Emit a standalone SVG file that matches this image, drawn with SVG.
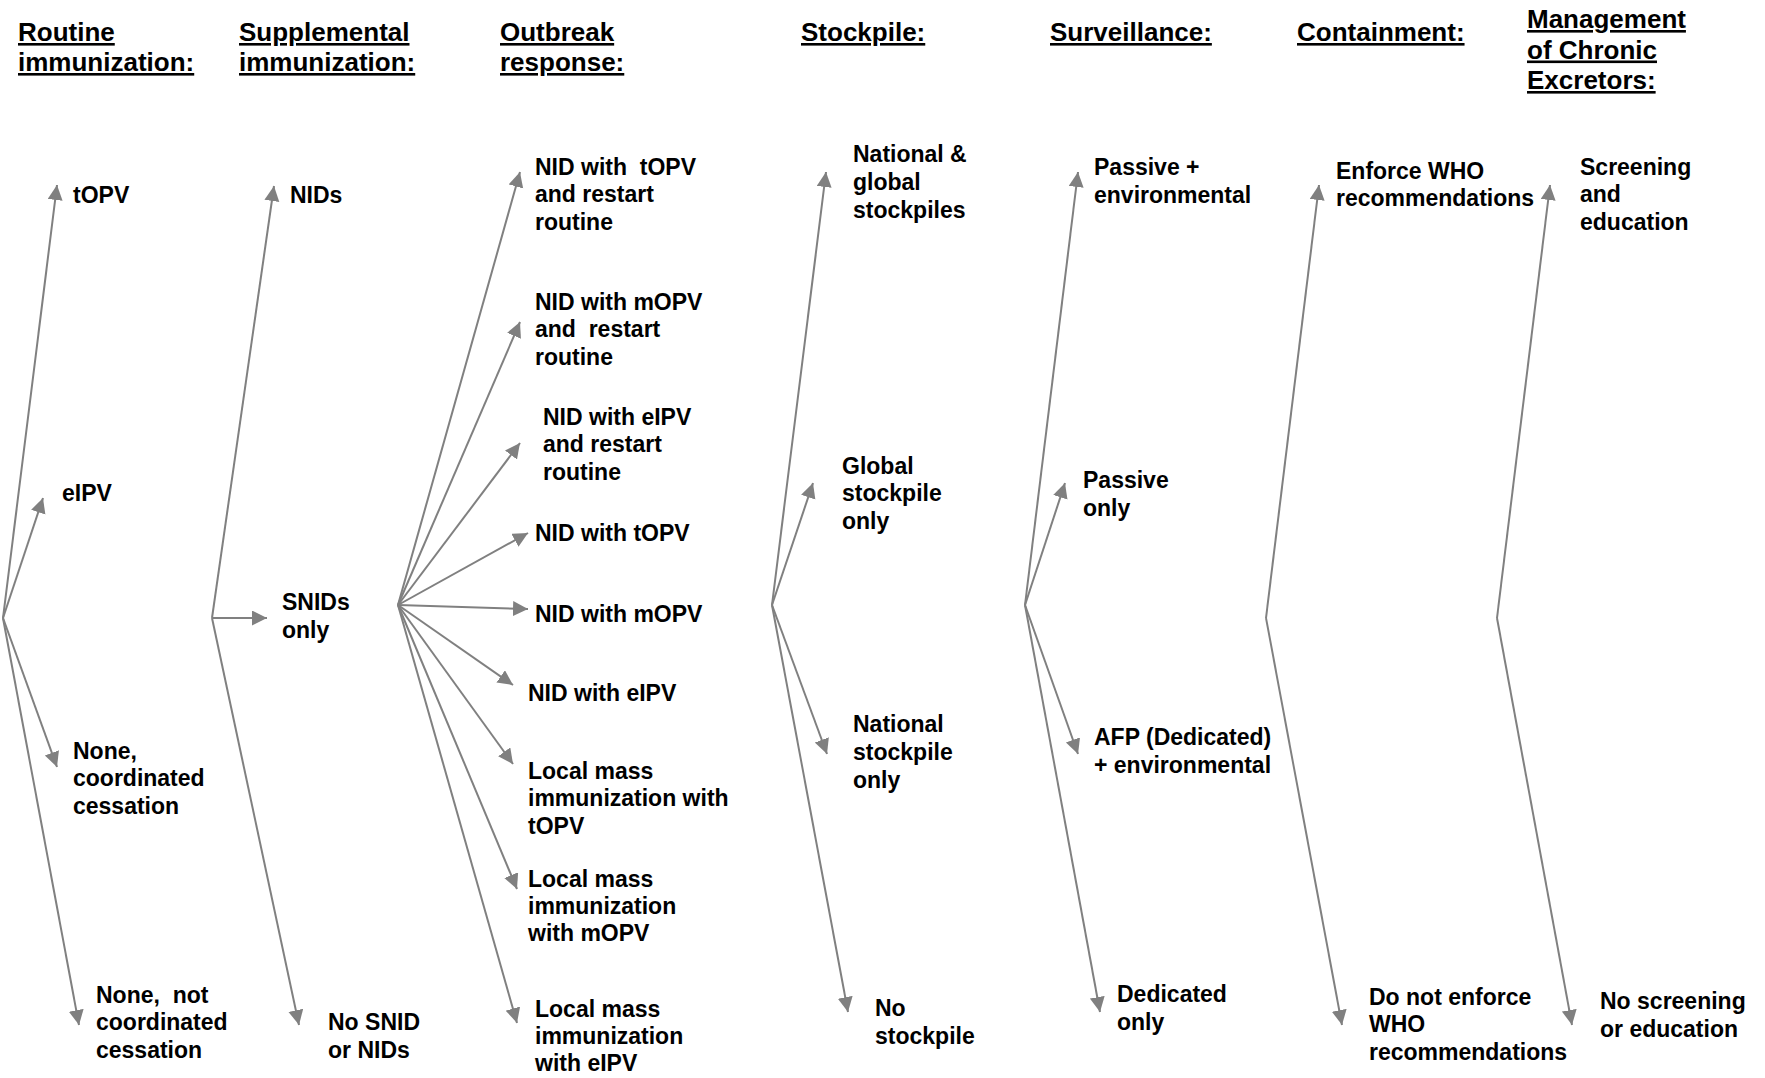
<svg xmlns="http://www.w3.org/2000/svg" width="1765" height="1078" viewBox="0 0 1765 1078">
  <style>
    .hdr { font-family: "Liberation Sans", Arial, sans-serif; font-weight: bold; font-size: 26px; fill: #000; text-decoration: underline; }
    .lbl { font-family: "Liberation Sans", Arial, sans-serif; font-weight: bold; font-size: 23px; fill: #000; white-space: pre; }
    .edge { fill: none; stroke: #808080; stroke-width: 2; marker-end: url(#arrow); }
  </style>
  <defs>
    <marker id="arrow" markerUnits="userSpaceOnUse" markerWidth="16" markerHeight="16" viewBox="0 0 16 16" refX="15" refY="7.5" orient="auto">
      <path d="M0,0 L15,7.5 L0,15 Z" fill="#808080"/>
    </marker>
  </defs>
  <rect width="1765" height="1078" fill="#fff"/>

  <!-- column headings -->
  <g id="headers">
    <text class="hdr" x="18" y="41">Routine<tspan x="18" dy="30">immunization:</tspan></text>
    <text class="hdr" x="239" y="41">Supplemental<tspan x="239" dy="30">immunization:</tspan></text>
    <text class="hdr" x="500" y="41">Outbreak<tspan x="500" dy="30">response:</tspan></text>
    <text class="hdr" x="801" y="41">Stockpile:</text>
    <text class="hdr" x="1050" y="41">Surveillance:</text>
    <text class="hdr" x="1297" y="41">Containment:</text>
    <text class="hdr" x="1527" y="28">Management<tspan x="1527" dy="30.5">of Chronic</tspan><tspan x="1527" dy="30.5">Excretors:</tspan></text>
  </g>

  <!-- branching arrows -->
  <g id="connectors">
    <!-- routine immunization -->
    <path class="edge" d="M3,618 L57,185"/>
    <path class="edge" d="M3,618 L43,498"/>
    <path class="edge" d="M3,618 L57,767"/>
    <path class="edge" d="M3,618 L79,1025"/>
    <!-- supplemental immunization -->
    <path class="edge" d="M212,618 L274,186"/>
    <path class="edge" d="M212,618 L267,618"/>
    <path class="edge" d="M212,618 L299,1025"/>
    <!-- outbreak response -->
    <path class="edge" d="M398,605 L520,172"/>
    <path class="edge" d="M398,605 L520,322"/>
    <path class="edge" d="M398,605 L520,443"/>
    <path class="edge" d="M398,605 L528,533"/>
    <path class="edge" d="M398,605 L528,609"/>
    <path class="edge" d="M398,605 L513,685"/>
    <path class="edge" d="M398,605 L513,764"/>
    <path class="edge" d="M398,605 L517,889"/>
    <path class="edge" d="M398,605 L517,1023"/>
    <!-- stockpile -->
    <path class="edge" d="M772,605 L826,172"/>
    <path class="edge" d="M772,605 L813,483"/>
    <path class="edge" d="M772,605 L827,754"/>
    <path class="edge" d="M772,605 L848,1012"/>
    <!-- surveillance -->
    <path class="edge" d="M1025,605 L1078,172"/>
    <path class="edge" d="M1025,605 L1065,483"/>
    <path class="edge" d="M1025,605 L1078,754"/>
    <path class="edge" d="M1025,605 L1100,1012"/>
    <!-- containment -->
    <path class="edge" d="M1266,618 L1319,185"/>
    <path class="edge" d="M1266,618 L1342,1025"/>
    <!-- management of chronic excretors -->
    <path class="edge" d="M1497,618 L1550,185"/>
    <path class="edge" d="M1497,618 L1572,1025"/>
  </g>

  <g id="labels" transform="translate(0,1.5)">
    <!-- routine immunization options -->
    <g id="ri-topv"><text class="lbl" x="73" y="201">tOPV</text></g>
    <g id="ri-eipv"><text class="lbl" x="62" y="499">eIPV</text></g>
    <g id="ri-none-coord"><text class="lbl" x="73" y="757">None,<tspan x="73" dy="27.5">coordinated</tspan><tspan x="73" dy="27.5">cessation</tspan></text></g>
    <g id="ri-none-uncoord"><text class="lbl" x="96" y="1001">None,  not<tspan x="96" dy="27.5">coordinated</tspan><tspan x="96" dy="27.5">cessation</tspan></text></g>

    <!-- supplemental immunization options -->
    <g id="si-nids"><text class="lbl" x="290" y="201">NIDs</text></g>
    <g id="si-snids"><text class="lbl" x="282" y="608">SNIDs<tspan x="282" dy="28">only</tspan></text></g>
    <g id="si-none"><text class="lbl" x="328" y="1028">No SNID<tspan x="328" dy="28">or NIDs</tspan></text></g>

    <!-- outbreak response options -->
    <g id="or-nid-topv-restart"><text class="lbl" x="535" y="173">NID with  tOPV<tspan x="535" dy="27.5">and restart</tspan><tspan x="535" dy="27.5">routine</tspan></text></g>
    <g id="or-nid-mopv-restart"><text class="lbl" x="535" y="308">NID with mOPV<tspan x="535" dy="27.5">and  restart</tspan><tspan x="535" dy="27.5">routine</tspan></text></g>
    <g id="or-nid-eipv-restart"><text class="lbl" x="543" y="423">NID with eIPV<tspan x="543" dy="27.5">and restart</tspan><tspan x="543" dy="27.5">routine</tspan></text></g>
    <g id="or-nid-topv"><text class="lbl" x="535" y="539">NID with tOPV</text></g>
    <g id="or-nid-mopv"><text class="lbl" x="535" y="620">NID with mOPV</text></g>
    <g id="or-nid-eipv"><text class="lbl" x="528" y="699">NID with eIPV</text></g>
    <g id="or-local-topv"><text class="lbl" x="528" y="777">Local mass<tspan x="528" dy="27.5">immunization with</tspan><tspan x="528" dy="27.5">tOPV</tspan></text></g>
    <g id="or-local-mopv"><text class="lbl" x="528" y="885">Local mass<tspan x="528" dy="27.5">immunization</tspan><tspan x="528" dy="27">with mOPV</tspan></text></g>
    <g id="or-local-eipv"><text class="lbl" x="535" y="1015">Local mass<tspan x="535" dy="27.5">immunization</tspan><tspan x="535" dy="27">with eIPV</tspan></text></g>

    <!-- stockpile options -->
    <g id="sp-national-global"><text class="lbl" x="853" y="160">National &amp;<tspan x="853" dy="28">global</tspan><tspan x="853" dy="28">stockpiles</tspan></text></g>
    <g id="sp-global"><text class="lbl" x="842" y="472">Global<tspan x="842" dy="27.5">stockpile</tspan><tspan x="842" dy="27.5">only</tspan></text></g>
    <g id="sp-national"><text class="lbl" x="853" y="730">National<tspan x="853" dy="28">stockpile</tspan><tspan x="853" dy="28">only</tspan></text></g>
    <g id="sp-none"><text class="lbl" x="875" y="1014">No<tspan x="875" dy="28.5">stockpile</tspan></text></g>

    <!-- surveillance options -->
    <g id="sv-passive-env"><text class="lbl" x="1094" y="173">Passive +<tspan x="1094" dy="28.5">environmental</tspan></text></g>
    <g id="sv-passive"><text class="lbl" x="1083" y="486">Passive<tspan x="1083" dy="28">only</tspan></text></g>
    <g id="sv-afp-env"><text class="lbl" x="1094" y="743">AFP (Dedicated)<tspan x="1094" dy="28">+ environmental</tspan></text></g>
    <g id="sv-dedicated"><text class="lbl" x="1117" y="1000">Dedicated<tspan x="1117" dy="28">only</tspan></text></g>

    <!-- containment options -->
    <g id="ct-enforce"><text class="lbl" x="1336" y="177">Enforce WHO<tspan x="1336" dy="27.5">recommendations</tspan></text></g>
    <g id="ct-no-enforce"><text class="lbl" x="1369" y="1003">Do not enforce<tspan x="1369" dy="27.5">WHO</tspan><tspan x="1369" dy="27.5">recommendations</tspan></text></g>

    <!-- management of chronic excretors options -->
    <g id="mg-screening"><text class="lbl" x="1580" y="173">Screening<tspan x="1580" dy="27.5">and</tspan><tspan x="1580" dy="27.5">education</tspan></text></g>
    <g id="mg-none"><text class="lbl" x="1600" y="1007">No screening<tspan x="1600" dy="28">or education</tspan></text></g>
  </g>
</svg>
